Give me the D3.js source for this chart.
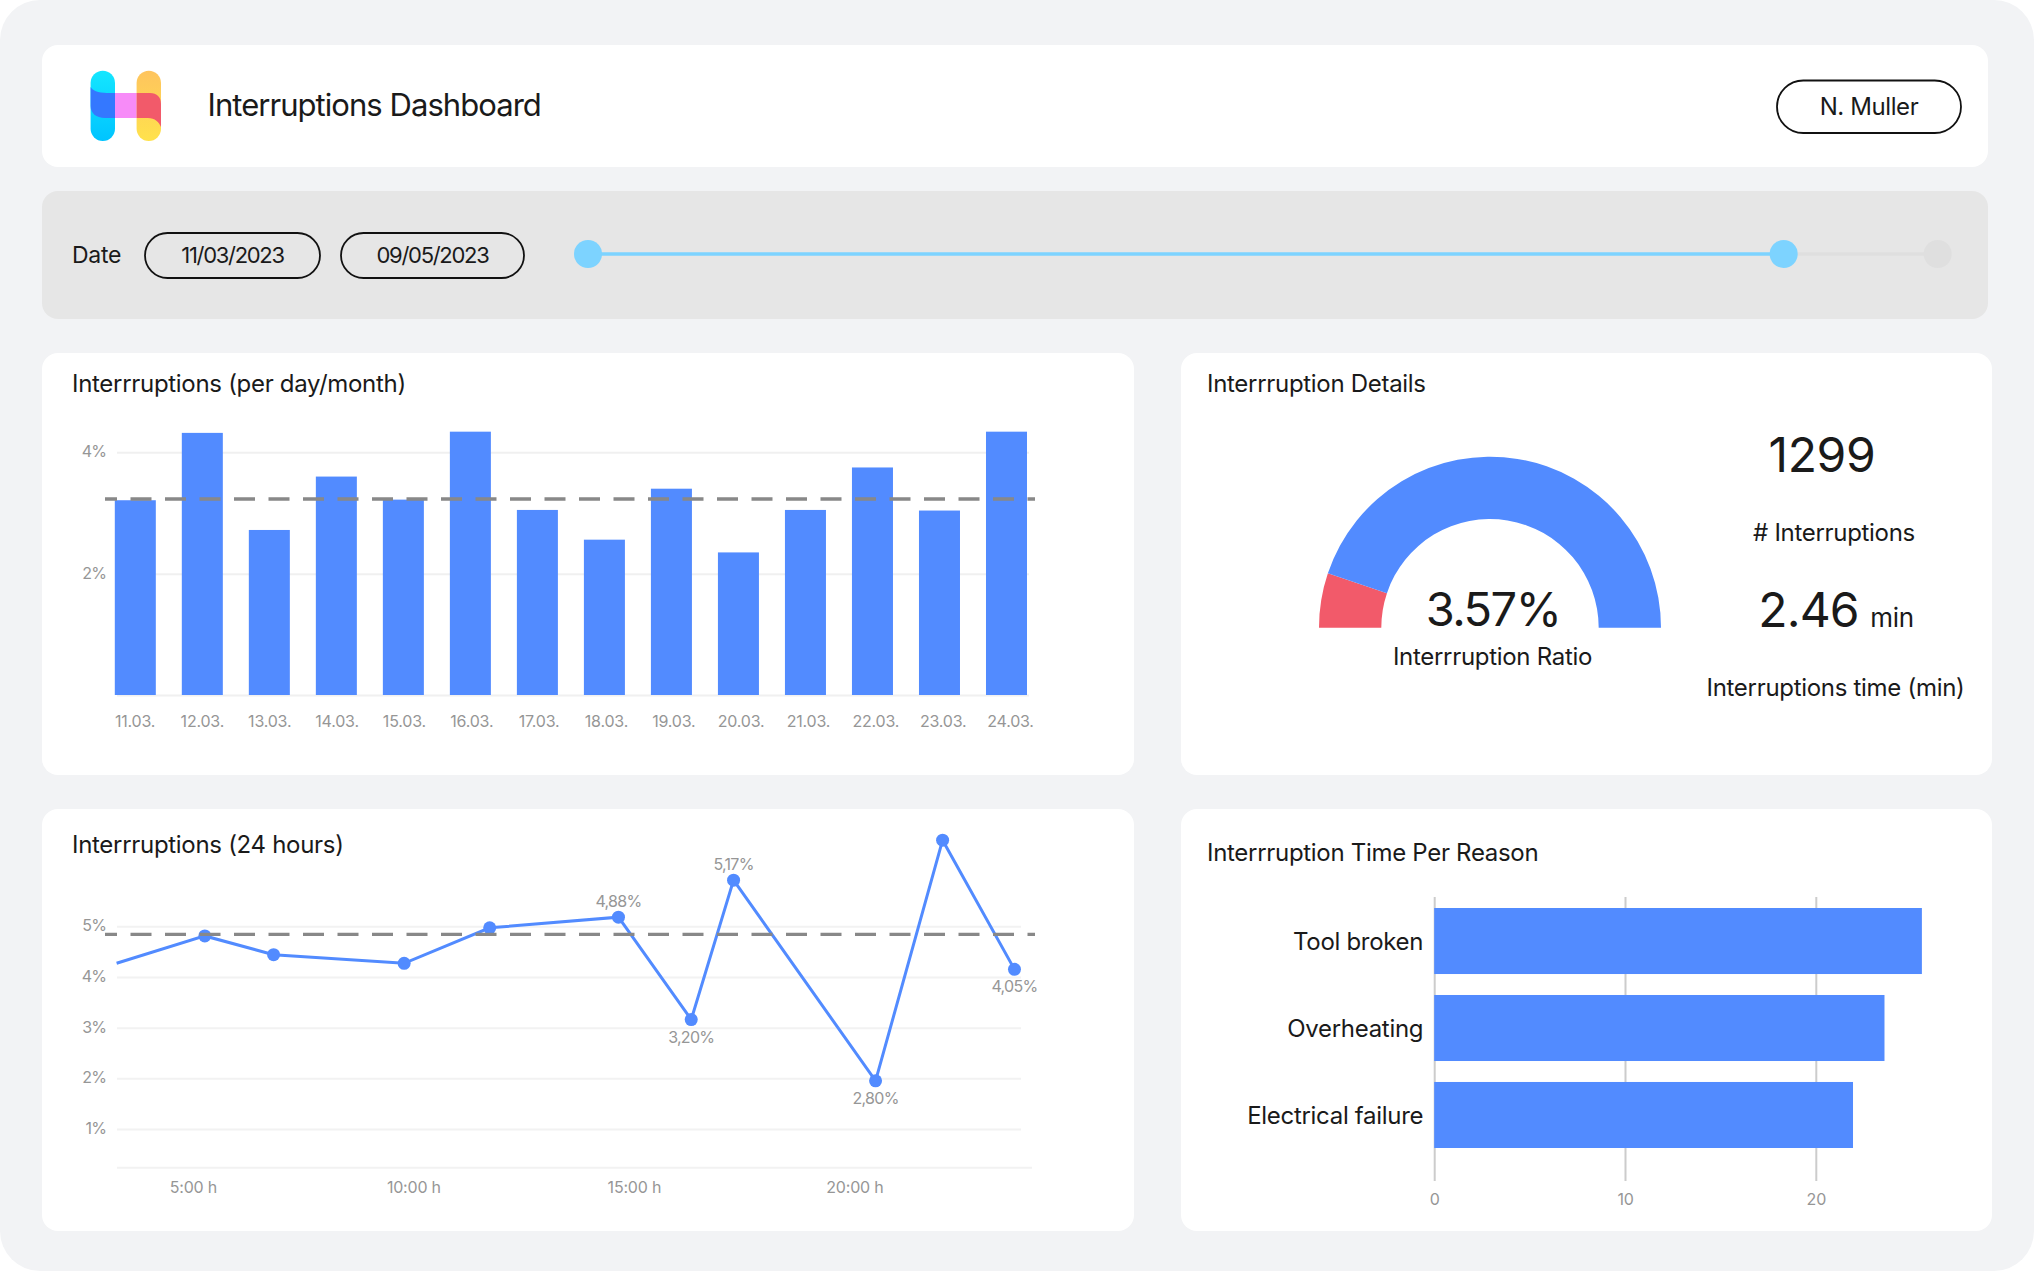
<!DOCTYPE html>
<html>
<head>
<meta charset="utf-8">
<title>Interruptions Dashboard</title>
<script src="https://cdn.jsdelivr.net/npm/d3@7"></script>
<style>
  html, body { margin: 0; padding: 0; background: #fff; }
  svg { display: block; }
  text { font-family: Inter, "Noto Sans", sans-serif; fill: #1a1a1a; }
  .tick text, .note { fill: #969696; font-size: 16px; letter-spacing: -0.2px; }
  .note { letter-spacing: -0.7px; }
  .percent .tick text { letter-spacing: -0.9px; }
  .domain { display: none; }
  .card-title { font-size: 24px; letter-spacing: -0.3px; }
  .label { font-size: 24px; letter-spacing: -0.3px; }
  .big { font-size: 48px; letter-spacing: -0.8px; }
</style>
</head>
<body>
<div id="dashboard"></div>
<script>
// per day chart
const dayLabels = ["11.03.", "12.03.", "13.03.", "14.03.", "15.03.", "16.03.", "17.03.", "18.03.", "19.03.", "20.03.", "21.03.", "22.03.", "23.03.", "24.03."];
const dayValues = [3.21, 4.32, 2.72, 3.60, 3.22, 4.34, 3.05, 2.56, 3.40, 2.35, 3.05, 3.75, 3.04, 4.34];
const dayTicks = [2, 4];
const dayTarget = 3.23;

// 24 hours chart
const hourValues = [3.27, 5.27, 6.83, 9.79, 11.73, 14.65, 16.30, 17.26, 20.48, 22.00, 23.63];
const hourRates = [4.27, 4.81, 4.44, 4.27, 4.97, 5.18, 3.16, 5.91, 1.95, 6.70, 4.15];
const hourNotes = [null, null, null, null, null, "4,88%", "3,20%", "5,17%", "2,80%", null, "4,05%"];
const hourMarked = [false, true, true, true, true, true, true, true, true, true, true];
const hourTicks = [5, 10, 15, 20];
const rateTicks = [1, 2, 3, 4, 5];
const hourTarget = 4.84;

// details
const gaugeShares = [10.3, 89.7];

// reasons
const reasons = ["Tool broken", "Overheating", "Electrical failure"];
const reasonMinutes = [25.56, 23.6, 21.95];
const minuteTicks = [0, 10, 20];

// date slider, days from the first date
const sliderDays = [0, 59, 66.6];

const BLUE = "#528bff";
const RED = "#f25a6a";
const SKY = "#7dd3ff";

var svg = d3.select("#dashboard")
    .append("svg")
    .attr("width", 2034)
    .attr("height", 1271);

svg.append("rect")
    .attr("width", 2034).attr("height", 1271)
    .attr("rx", 40)
    .attr("fill", "#f2f3f5");

const card = function (x, y, w, h, color = "#fff") {
    svg.append("rect")
        .attr("x", x).attr("y", y)
        .attr("width", w).attr("height", h)
        .attr("rx", 16)
        .attr("fill", color);
}

const label = function (text, x, y, cls, anchor = "start") {
    return svg.append("text")
        .attr("x", x).attr("y", y)
        .attr("class", cls)
        .attr("text-anchor", anchor)
        .text(text);
}

const pill = function (x, y, w, h, text, size, spacing) {
    svg.append("rect")
        .attr("x", x).attr("y", y)
        .attr("width", w).attr("height", h)
        .attr("rx", h / 2)
        .attr("fill", "none")
        .attr("stroke", "#111")
        .attr("stroke-width", 1.8);
    label(text, x + w / 2, y + h / 2 + size * 0.34, "", "middle")
        .style("font-size", size + "px")
        .style("letter-spacing", spacing + "px");
}

card(42, 45, 1946, 122);
card(42, 191, 1946, 128, "#e6e6e6");
card(42, 353, 1092, 422);
card(1181, 353, 811, 422);
card(42, 809, 1092, 422);
card(1181, 809, 811, 422);

// logo
var defs = svg.append("defs");
var cyanGrad = defs.append("linearGradient").attr("id", "logo-left").attr("x2", 0).attr("y2", 1);
cyanGrad.append("stop").attr("offset", 0).attr("stop-color", "#14e6ff");
cyanGrad.append("stop").attr("offset", 1).attr("stop-color", "#00c4ff");
var amberGrad = defs.append("linearGradient").attr("id", "logo-right").attr("x2", 0).attr("y2", 1);
amberGrad.append("stop").attr("offset", 0).attr("stop-color", "#fec45e");
amberGrad.append("stop").attr("offset", 1).attr("stop-color", "#ffe24c");

[[90.6, "url(#logo-left)"], [136.6, "url(#logo-right)"]].forEach(p => {
    svg.append("rect")
        .attr("x", p[0]).attr("y", 70.7)
        .attr("width", 24.4).attr("height", 70.3)
        .attr("rx", 12.2)
        .attr("fill", p[1]);
});
const ribbon = "M90.6,87 C92,90 98,93 107,93 L150,93 C157,93 161,97 161,104 L161,127 C159,122 155,118 148,118 L105,118 C96,118 90.6,113 90.6,106 Z";
[[90, 25, "#3478ff", "a"], [115, 21.6, "#f78bf8", "b"], [136.6, 25, RED, "c"]].forEach(s => {
    defs.append("clipPath").attr("id", "ribbon-" + s[3])
        .append("rect").attr("x", s[0]).attr("y", 80).attr("width", s[1]).attr("height", 50);
    svg.append("path")
        .attr("d", ribbon)
        .attr("fill", s[2])
        .attr("clip-path", "url(#ribbon-" + s[3] + ")");
});

label("Interruptions Dashboard", 207.5, 116, "").style("font-size", "31px").style("letter-spacing", "-0.95px");
pill(1777, 80.5, 184, 52.5, "N. Muller", 24, -0.4);

// date row
label("Date", 72, 263, "").style("font-size", "23px").style("letter-spacing", "-0.3px");
pill(145, 233, 175, 45, "11/03/2023", 22, -1.3);
pill(341, 233, 183, 45, "09/05/2023", 22, -1.3);

var xSlider = d3.scaleLinear()
    .domain([sliderDays[0], sliderDays[2]])
    .range([588, 1937.7]);

svg.append("line")
    .attr("x1", xSlider(sliderDays[1])).attr("x2", xSlider(sliderDays[2]))
    .attr("y1", 254).attr("y2", 254)
    .attr("stroke", "#dfdfdf").attr("stroke-width", 3.5);
svg.append("line")
    .attr("x1", xSlider(sliderDays[0])).attr("x2", xSlider(sliderDays[1]))
    .attr("y1", 254).attr("y2", 254)
    .attr("stroke", SKY).attr("stroke-width", 3.5);
svg.selectAll(".handle")
    .data(sliderDays)
    .enter()
    .append("circle")
    .attr("class", "handle")
    .attr("cx", d => xSlider(d))
    .attr("cy", 254)
    .attr("r", 14)
    .attr("fill", (d, i) => i < 2 ? SKY : "#dfdfdf");

const dashed = function (y) {
    svg.append("line")
        .attr("x1", 105).attr("x2", 1035)
        .attr("y1", y).attr("y2", y)
        .attr("stroke", "#888")
        .attr("stroke-width", 3.4)
        .attr("stroke-dasharray", "21 13.5")
        .attr("stroke-dashoffset", 9);
}

const styleGrid = function (g, color) {
    g.selectAll(".tick line").attr("stroke", color).attr("stroke-width", 2);
}

// Interruptions per day
label("Interrruptions (per day/month)", 72, 392, "card-title");

var xDay = d3.scaleBand()
    .domain(dayLabels)
    .range([114.8, 1027])
    .paddingInner(0.388)
    .paddingOuter(0);
var xDayLabels = d3.scalePoint()
    .domain(dayLabels)
    .range([134.5, 1010]);
var yDay = d3.scaleLinear()
    .domain([0, 4])
    .range([695, 452.3]);

svg.append("g")
    .attr("class", "percent")
    .attr("transform", "translate(117,0)")
    .call(d3.axisLeft(yDay).tickValues([0].concat(dayTicks)).tickSize(-912).tickPadding(11)
        .tickFormat(d => d ? d + "%" : ""))
    .call(styleGrid, "#f0f0f0")
    .selectAll("text")
    .attr("dy", "0.28em");

svg.selectAll(".day-bar")
    .data(dayValues)
    .enter()
    .append("rect")
    .attr("class", "day-bar")
    .attr("x", (d, i) => xDay(dayLabels[i]))
    .attr("y", d => yDay(d))
    .attr("width", xDay.bandwidth())
    .attr("height", d => yDay(0) - yDay(d))
    .attr("fill", BLUE);

svg.append("g")
    .attr("transform", "translate(0,695)")
    .call(d3.axisBottom(xDayLabels).tickSize(0).tickPadding(21));

dashed(yDay(dayTarget));

// Interruption details
label("Interrruption Details", 1207, 392, "card-title");

var pie = d3.pie()
    .sort(null)
    .startAngle(-Math.PI / 2)
    .endAngle(Math.PI / 2);
var arc = d3.arc()
    .innerRadius(108.7)
    .outerRadius(171);

svg.append("g")
    .attr("transform", "translate(1490,627.7)")
    .selectAll("path")
    .data(pie(gaugeShares))
    .enter()
    .append("path")
    .attr("d", arc)
    .attr("fill", (d, i) => i == 0 ? RED : BLUE);

label("3.57%", 1493, 625.7, "big", "middle").style("font-size", "47px").style("letter-spacing", "-1.5px");
label("Interrruption Ratio", 1492.5, 665, "label", "middle");
label("1299", 1822, 472, "big", "middle").style("letter-spacing", "-0.3px");
label("# Interruptions", 1834, 541, "label", "middle");
label("2.46", 1808.5, 626.7, "big", "middle");
label("min", 1892, 626.7, "label", "middle").style("font-size", "26px");
label("Interruptions time (min)", 1835.5, 696, "label", "middle");

// Interruptions 24 hours
label("Interrruptions (24 hours)", 72, 853, "card-title");

var xHour = d3.scaleLinear()
    .domain([5, 20])
    .range([192.9, 854.4]);
var yRate = d3.scaleLinear()
    .domain([1, 5])
    .range([1129, 926.3]);

svg.append("g")
    .attr("class", "percent")
    .attr("transform", "translate(117,0)")
    .call(d3.axisLeft(yRate).tickValues(rateTicks).tickSize(-904).tickPadding(11)
        .tickFormat(d => d + "%"))
    .call(styleGrid, "#f2f2f2")
    .selectAll("text")
    .attr("dy", "0.29em");

svg.append("g")
    .attr("transform", "translate(0,1167.7)")
    .call(d3.axisBottom(xHour).tickValues(hourTicks).tickSize(0).tickPadding(14)
        .tickFormat(d => d + ":00 h"));
svg.append("line")
    .attr("x1", 117).attr("x2", 1032)
    .attr("y1", 1167.7).attr("y2", 1167.7)
    .attr("stroke", "#f2f2f2").attr("stroke-width", 2);

var hourPoints = hourRates.map((rate, i) => ({
    hour: hourValues[i],
    rate: rate,
    note: hourNotes[i],
    marked: hourMarked[i],
    // notes sit below a point that dropped, above one that rose
    dropped: i > 0 && rate < hourRates[i - 1]
}));

var hourLine = d3.line()
    .x(d => xHour(d.hour))
    .y(d => yRate(d.rate));

svg.append("path")
    .datum(hourPoints)
    .attr("d", hourLine)
    .attr("fill", "none")
    .attr("stroke", BLUE)
    .attr("stroke-width", 3);

svg.selectAll(".hour-point")
    .data(hourPoints.filter(d => d.marked))
    .enter()
    .append("circle")
    .attr("class", "hour-point")
    .attr("cx", d => xHour(d.hour))
    .attr("cy", d => yRate(d.rate))
    .attr("r", 6.5)
    .attr("fill", BLUE);

svg.selectAll(".note")
    .data(hourPoints.filter(d => d.note !== null))
    .enter()
    .append("text")
    .attr("class", "note")
    .attr("text-anchor", "middle")
    .attr("dominant-baseline", "central")
    .attr("x", d => xHour(d.hour))
    .attr("y", d => yRate(d.rate) + (d.dropped ? 17 : -16.5))
    .text(d => d.note);

dashed(yRate(hourTarget));

// Interruption time per reason
label("Interrruption Time Per Reason", 1207, 861, "card-title");

var xMinutes = d3.scaleLinear()
    .domain([0, 20])
    .range([1434.2, 1815.8]);
var yReason = d3.scaleBand()
    .domain(reasons)
    .range([908, 1148])
    .paddingInner(0.241)
    .paddingOuter(0);

svg.append("g")
    .attr("transform", "translate(0,1181)")
    .call(d3.axisBottom(xMinutes).tickValues(minuteTicks).tickSize(-284).tickPadding(13))
    .call(styleGrid, "#cccccc");

svg.selectAll(".reason-bar")
    .data(reasonMinutes)
    .enter()
    .append("rect")
    .attr("class", "reason-bar")
    .attr("x", xMinutes(0))
    .attr("y", (d, i) => yReason(reasons[i]))
    .attr("width", d => xMinutes(d) - xMinutes(0))
    .attr("height", yReason.bandwidth())
    .attr("fill", BLUE);

svg.append("g")
    .attr("transform", "translate(1434.2,0)")
    .call(d3.axisLeft(yReason).tickSize(0).tickPadding(11))
    .selectAll("text")
    .attr("dy", "0.38em")
    .style("font-size", "24px")
    .style("fill", "#1a1a1a")
    .style("letter-spacing", "-0.3px");
</script>
</body>
</html>
